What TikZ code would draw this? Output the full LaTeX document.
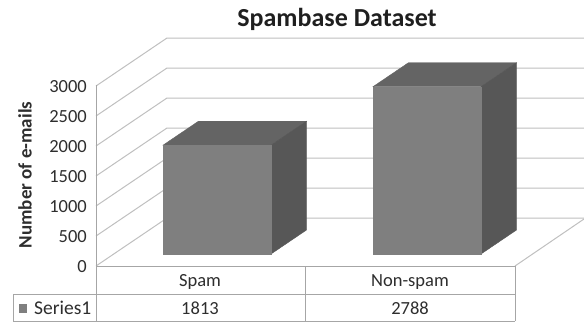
\documentclass[tikz,border=0pt]{standalone}
\usepackage{fontspec}
\setmainfont{Carlito}
\begin{document}
\begin{tikzpicture}[x=1pt,y=-1pt,
  grid/.style={draw=gridgray,line width=1pt},
  tab/.style={draw=tabgray,line width=1pt},
  lbl/.style={text=txt,font=\fontsize{18.5}{20}\selectfont,inner sep=0pt},
  front/.style={fill=frontc},
  topf/.style={fill=topc},
  sidef/.style={fill=sidec}]
\definecolor{gridgray}{HTML}{C0C0C0}
\definecolor{tabgray}{HTML}{A6A6A6}
\definecolor{txt}{HTML}{2E2E2E}
\definecolor{frontc}{HTML}{7F7F7F}
\definecolor{topc}{HTML}{646464}
\definecolor{sidec}{HTML}{575757}
\useasboundingbox[fill=white] (0,0) rectangle (584,322);
% depth vector (71,-48); 0 level at y=266, 500 units = 30px
\foreach \v in {0,1,...,6}{
  \pgfmathsetmacro{\yy}{266-30*\v}
  \draw[grid] (96,\yy) -- (167,\yy-48) -- (584,\yy-48);
}
% floor right edge
\draw[grid] (515,266) -- (584,219);
% axis vertical
\draw[tab] (96,85) -- (96,321);
% table
\draw[tab] (96,266) -- (515,266);
\draw[tab] (13,294) -- (515,294);
\draw[tab] (13,321) -- (515,321);
\draw[tab] (13,294) -- (13,321);
\draw[tab] (305,266) -- (305,321);
\draw[tab] (515,266) -- (515,321);
% bars
\foreach \x/\h in {163/108.8,373/167.3}{
  \pgfmathsetmacro{\yb}{254}
  \pgfmathsetmacro{\yt}{254-\h}
  \filldraw[topf,draw=topc] (\x,\yt) -- (\x+35.5,\yt-24) -- (\x+108+35.5,\yt-24) -- (\x+108,\yt) -- cycle;
  \filldraw[sidef,draw=sidec] (\x+108,\yt) -- (\x+108+35.5,\yt-24) -- (\x+108+35.5,\yb-24) -- (\x+108,\yb) -- cycle;
  \filldraw[front,draw=frontc] (\x,\yt) rectangle (\x+108,\yb);
}
% tick labels
\foreach \v [count=\i from 0] in {0,500,1000,1500,2000,2500,3000}{
  \node[lbl,anchor=east] (t\i) at (87,267-30*\i) {\v};
}
\node[lbl,font=\fontsize{19}{20}\selectfont\bfseries,rotate=90] (ylab) at (25,175) {Number of e-mails};
\node[lbl,text=black!88,font=\fontsize{26}{28}\selectfont\bfseries] (title) at (337,19) {Spambase Dataset};
\node[lbl] (c1) at (200,282) {Spam};
\node[lbl] (c2) at (410,282) {Non-spam};
\node[lbl] (d1) at (200,308) {1813};
\node[lbl] (d2) at (410,308) {2788};
\fill[frontc] (19,304) rectangle (27,313);
\node[lbl,anchor=west,font=\fontsize{19.5}{20}\selectfont] (s1) at (34,308) {Series1};
\end{tikzpicture}
\end{document}
